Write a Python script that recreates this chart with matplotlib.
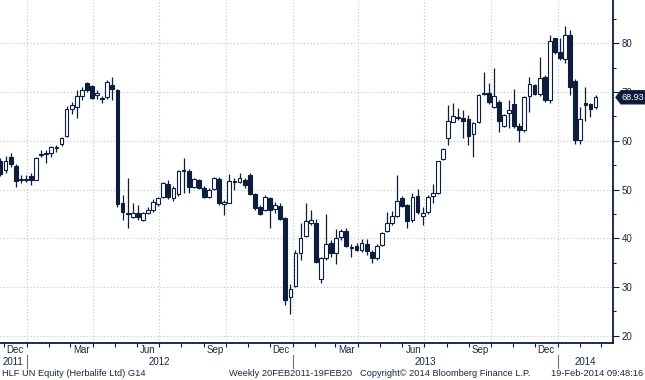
import datetime as dt
import numpy as np
import pandas as pd
import matplotlib
matplotlib.use("Agg")
import matplotlib.pyplot as plt
import matplotlib.dates as mdates
import matplotlib.transforms as mtransforms
from matplotlib.ticker import MultipleLocator
from matplotlib.patches import Polygon

# HLF UN Equity, weekly bars
first_week = "2011-11-26"
opens = [55.9, 54.1, 56.6, 54.8, 51.9, 52.1, 52.8, 52.0, 57.0, 57.3,
         57.4, 58.5, 59.3, 61.0, 66.5, 67.0, 69.2, 71.8, 71.2, 69.5,
         68.8, 69.0, 71.4, 70.4, 47.2, 45.0, 44.4, 45.2, 43.7, 45.2,
         45.8, 47.0, 48.5, 51.1, 48.2, 49.0, 53.8, 53.8, 50.6, 51.9,
         50.4, 48.5, 50.2, 52.1, 47.0, 47.3, 51.8, 51.5, 52.0, 53.0,
         49.1, 46.5, 45.9, 48.2, 46.1, 46.6, 44.2, 28.0, 30.2, 37.0,
         40.5, 43.2, 43.2, 31.6, 35.9, 39.0, 36.9, 40.2, 41.5, 38.0,
         38.4, 37.6, 38.8, 37.2, 35.9, 38.6, 41.5, 43.1, 44.6, 48.2,
         46.8, 43.7, 48.7, 44.6, 45.4, 48.7, 49.2, 56.2, 60.5, 63.9,
         64.9, 64.6, 64.4, 61.3, 63.9, 69.6, 69.9, 66.9, 68.0, 63.0,
         65.8, 67.5, 63.0, 62.2, 69.2, 71.4, 69.6, 73.0, 68.4, 81.0,
         78.3, 76.7, 81.7, 72.3, 60.2, 67.7, 67.5, 66.9]
highs = [56.4, 56.9, 57.4, 55.2, 52.9, 52.9, 53.3, 56.7, 58.1, 58.2,
         59.0, 59.1, 60.8, 67.1, 68.0, 70.4, 71.1, 72.1, 71.5, 70.4,
         69.2, 72.5, 73.1, 70.6, 48.9, 52.3, 47.2, 46.8, 45.4, 46.5,
         48.0, 48.5, 51.6, 51.9, 50.7, 54.1, 56.4, 54.3, 52.3, 52.1,
         50.7, 50.4, 52.6, 52.6, 47.8, 53.2, 52.3, 53.4, 52.4, 53.3,
         49.3, 46.8, 48.9, 48.5, 47.5, 47.2, 44.4, 30.7, 37.6, 43.2,
         47.3, 45.8, 44.0, 36.2, 45.0, 39.6, 41.8, 42.0, 42.2, 38.8,
         39.0, 39.8, 39.8, 37.6, 38.8, 41.3, 45.4, 45.6, 53.0, 48.7,
         47.1, 49.2, 50.2, 46.5, 48.9, 51.1, 55.9, 58.5, 67.3, 67.8,
         66.7, 66.3, 65.3, 63.9, 69.6, 74.2, 71.8, 74.9, 68.4, 65.6,
         68.4, 70.6, 63.6, 69.2, 73.1, 71.6, 77.2, 73.5, 81.7, 81.2,
         81.0, 83.5, 82.7, 72.6, 66.9, 71.1, 67.8, 69.3]
lows = [52.8, 53.3, 54.7, 50.6, 51.4, 51.6, 50.9, 51.9, 56.6, 55.5,
        56.6, 57.6, 58.9, 60.8, 65.6, 64.7, 68.4, 70.1, 68.6, 68.5,
        67.7, 68.5, 68.4, 46.5, 43.7, 42.2, 44.1, 43.7, 43.6, 45.0,
        45.4, 46.6, 48.2, 48.0, 47.7, 48.7, 49.2, 49.3, 50.4, 50.2,
        48.2, 48.3, 50.0, 46.8, 44.8, 47.2, 49.9, 51.3, 50.3, 48.9,
        45.8, 44.8, 45.6, 42.2, 45.1, 43.7, 26.3, 24.4, 29.9, 35.5,
        40.3, 42.7, 34.9, 30.9, 35.5, 36.2, 34.7, 39.6, 38.3, 36.2,
        37.4, 37.2, 36.6, 34.9, 35.5, 38.4, 41.2, 42.7, 44.3, 46.5,
        42.2, 43.4, 45.0, 42.7, 45.0, 47.2, 49.0, 56.0, 59.1, 63.8,
        64.3, 60.5, 59.1, 56.7, 63.7, 69.3, 67.6, 66.7, 61.9, 62.8,
        62.6, 62.6, 59.8, 61.9, 66.0, 69.4, 69.2, 68.0, 67.7, 77.9,
        76.5, 75.9, 69.5, 59.3, 59.3, 64.1, 64.9, 66.6]
closes = [53.1, 55.9, 55.2, 51.7, 52.1, 52.0, 52.0, 56.5, 57.2, 57.5,
          58.8, 58.7, 60.5, 66.5, 67.3, 69.2, 70.4, 70.4, 68.7, 69.7,
          68.6, 72.1, 70.6, 47.0, 45.4, 45.2, 45.1, 44.4, 45.1, 45.9,
          47.4, 48.3, 51.3, 48.5, 50.4, 53.9, 54.0, 50.6, 52.1, 50.4,
          48.5, 50.0, 52.4, 47.3, 47.4, 51.8, 51.5, 52.3, 50.9, 49.0,
          46.3, 45.0, 48.5, 45.8, 46.8, 43.9, 27.3, 29.5, 37.0, 40.1,
          43.5, 43.8, 35.2, 35.9, 38.8, 36.9, 40.1, 41.5, 38.5, 38.2,
          37.6, 39.0, 37.4, 35.9, 38.4, 41.0, 43.2, 44.6, 47.6, 46.6,
          43.6, 48.4, 45.4, 45.1, 48.5, 49.2, 55.8, 58.4, 64.1, 65.1,
          64.6, 64.1, 61.0, 63.7, 69.4, 69.8, 68.0, 69.2, 64.1, 65.3,
          66.3, 63.0, 62.2, 68.9, 71.6, 69.6, 72.8, 68.4, 80.5, 78.3,
          76.9, 81.7, 71.0, 60.2, 64.4, 67.3, 66.5, 68.93]
last_price = 68.93

y_ticks = [20, 30, 40, 50, 60, 70, 80]
label_months = {12: "Dec", 3: "Mar", 6: "Jun", 9: "Sep"}
years = [2011, 2012, 2013, 2014]
footer_left = "HLF UN Equity (Herbalife Ltd) G14"
footer_mid = "Weekly 20FEB2011-19FEB20"
footer_copy = "Copyright\u00a9 2014 Bloomberg Finance L.P."
footer_time = "19-Feb-2014 09:48:16"

navy = "#0d1e3d"
text_col = "#1a2744"
grid_col = "#c4c4c4"

plt.rcParams['font.family'] = ['Liberation Sans', 'DejaVu Sans']

dates = pd.date_range(first_week, periods=len(opens), freq="7D")
x = mdates.date2num(dates)
o = np.array(opens)
h = np.array(highs)
l = np.array(lows)
c = np.array(closes)
up = c >= o

fig = plt.figure(figsize=(6.45, 3.8), dpi=100)
ax = fig.add_axes([0.0, 1 - 343 / 380, 613 / 645, 343 / 380])

x0 = mdates.date2num(dt.datetime(2011, 11, 25, 8))
x1 = mdates.date2num(dt.datetime(2014, 3, 18))
ax.set_xlim(x0, x1)
ax.set_ylim(18.5, 88.9)

# grid
for yv in y_ticks:
    ax.axhline(yv, color=grid_col, lw=0.8, ls=(0, (1, 2)), zorder=0)
for q in pd.date_range("2012-01-01", "2014-01-01", freq="QS"):
    ax.axvline(mdates.date2num(q), color=grid_col, lw=0.8, ls=(0, (1, 2)), zorder=0)

# candles
ax.vlines(x, l, h, color=navy, lw=0.9, zorder=2)
body_lo = np.minimum(o, c)
body_h = np.maximum(np.abs(c - o), 0.25)
ax.bar(x, body_h, bottom=body_lo, width=5.2,
       color=np.where(up, "white", navy), edgecolor=navy, linewidth=0.8, zorder=3)

# axes styling
for side in ["left", "top"]:
    ax.spines[side].set_visible(False)
for side in ["right", "bottom"]:
    ax.spines[side].set_color(navy)
    ax.spines[side].set_linewidth(1.3)

ax.yaxis.tick_right()
ax.set_yticks(y_ticks)
ax.yaxis.set_minor_locator(MultipleLocator(5))
ax.tick_params(axis="y", which="major", length=4, width=0.8, colors=navy,
               labelcolor=text_col, labelsize=7, pad=2)
ax.tick_params(axis="y", which="minor", length=2.5, width=0.8, colors=navy)

ax.xaxis.set_major_locator(mdates.MonthLocator())
ax.xaxis.set_major_formatter(plt.NullFormatter())
ax.tick_params(axis="x", which="major", length=3, width=0.8, colors=navy)

# month labels centred in their month, year labels centred on visible span
trans = mtransforms.blended_transform_factory(ax.transData, ax.transAxes)
for m in pd.date_range("2011-12-01", "2014-02-01", freq="MS"):
    if m.month in label_months:
        mid = mdates.date2num(m + pd.Timedelta(days=15))
        ax.text(mid, -0.021, label_months[m.month], transform=trans,
                ha="center", va="center", fontsize=7, color=text_col)
for yr in years:
    a = max(mdates.date2num(dt.datetime(yr, 1, 1)), x0)
    b = min(mdates.date2num(dt.datetime(yr + 1, 1, 1)), x1)
    ax.text((a + b) / 2, -0.054, str(yr), transform=trans,
            ha="center", va="center", fontsize=7, color=text_col)
    if yr > years[0]:
        xb = mdates.date2num(dt.datetime(yr, 1, 1))
        ax.plot([xb, xb], [-0.035, -0.073], transform=trans, color="#6a7388",
                lw=0.8, clip_on=False)

# last price tag, drawn over the 70 label like the terminal does
tag_tr = mtransforms.blended_transform_factory(fig.transFigure, ax.transData)
hh = 6.5 / 4.873
tag = Polygon([(616 / 645, last_price), (621 / 645, last_price + hh),
               (645 / 645, last_price + hh), (645 / 645, last_price - hh),
               (621 / 645, last_price - hh)], closed=True,
              transform=tag_tr, facecolor=navy, edgecolor=navy, clip_on=False, zorder=5)
ax.add_patch(tag)
ax.text(632.5 / 645, last_price, f"{last_price:.2f}", transform=tag_tr,
        ha="center", va="center", fontsize=6.6, color="white", zorder=6)

# footer
fy = 1 - 373 / 380
fig.text(2 / 645, fy, footer_left, ha="left", va="center", fontsize=6.7, color=text_col)
fig.text(229 / 645, fy, footer_mid, ha="left", va="center", fontsize=6.7, color=text_col)
fig.text(360 / 645, fy, footer_copy, ha="left", va="center", fontsize=6.7, color=text_col)
fig.text(643 / 645, fy, footer_time, ha="right", va="center", fontsize=6.7, color=text_col)

fig.savefig("out.png", dpi=100)
